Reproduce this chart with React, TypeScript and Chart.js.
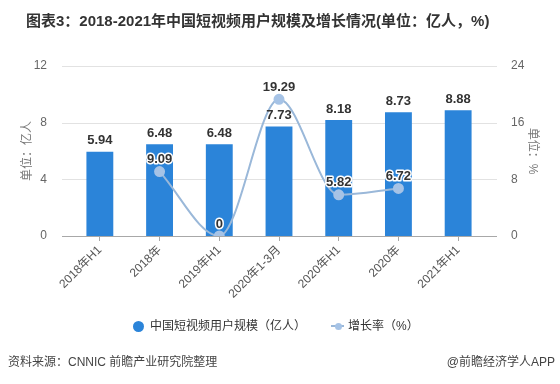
import React, { useEffect, useRef } from "react";
import { Chart, registerables } from "chart.js";

Chart.register(...registerables);

const categories = ["2018年H1", "2018年", "2019年H1", "2020年1-3月", "2020年H1", "2020年", "2021年H1"];
const userScale = [5.94, 6.48, 6.48, 7.73, 8.18, 8.73, 8.88];
const growthRate = [null, 9.09, 0, 19.29, 5.82, 6.72, null];
const leftTicks = [0, 4, 8, 12];
const rightTicks = [0, 8, 16, 24];

const TITLE = "图表3：2018-2021年中国短视频用户规模及增长情况(单位：亿人，%)";
const LEGEND_BAR = "中国短视频用户规模（亿人）";
const LEGEND_LINE = "增长率（%）";
const SOURCE = "资料来源：CNNIC 前瞻产业研究院整理";
const CREDIT = "@前瞻经济学人APP";

const BAR_COLOR = "#2b84d9";
const LINE_COLOR = "#9ab8d9";
const POINT_COLOR = "#a6c3e6";
const FONT = "'Liberation Sans', Arial, 'Noto Sans CJK SC', sans-serif";

const gridPlugin = {
  id: "customGrid",
  beforeDatasetsDraw(chart: any) {
    const { ctx, chartArea, scales } = chart;
    ctx.save();
    leftTicks.forEach((v) => {
      const y = Math.round(scales.y.getPixelForValue(v)) + 0.5;
      ctx.beginPath();
      ctx.strokeStyle = v === 0 ? "#a8a8a8" : "#e2e2e2";
      ctx.lineWidth = 1;
      ctx.moveTo(chartArea.left - 8, y);
      ctx.lineTo(chartArea.right + 9, y);
      ctx.stroke();
    });
    ctx.restore();
  },
};

const labelPlugin = {
  id: "valueLabels",
  afterDatasetsDraw(chart: any) {
    const { ctx } = chart;
    ctx.save();
    ctx.font = `bold 13px ${FONT}`;
    ctx.textAlign = "center";
    ctx.textBaseline = "middle";
    const barMeta = chart.getDatasetMeta(1);
    barMeta.data.forEach((el: any, i: number) => {
      ctx.fillStyle = "#333";
      ctx.fillText(userScale[i].toFixed(2), el.x, el.y - 11);
    });
    const lineMeta = chart.getDatasetMeta(0);
    lineMeta.data.forEach((el: any, i: number) => {
      const v = growthRate[i];
      if (v === null || v === undefined) return;
      const t = v === 0 ? "0" : v.toFixed(2);
      ctx.lineWidth = 3;
      ctx.strokeStyle = "#ffffff";
      ctx.lineJoin = "round";
      ctx.strokeText(t, el.x, el.y - 12);
      ctx.fillStyle = "#333";
      ctx.fillText(t, el.x, el.y - 12);
    });
    ctx.restore();
  },
};

export default function App() {
  const canvasRef = useRef<HTMLCanvasElement | null>(null);

  useEffect(() => {
    if (!canvasRef.current) return;
    const chart = new Chart(canvasRef.current, {
      type: "bar",
      data: {
        labels: categories,
        datasets: [
          {
            type: "line",
            label: LEGEND_LINE,
            data: growthRate,
            yAxisID: "y1",
            borderColor: LINE_COLOR,
            backgroundColor: POINT_COLOR,
            pointBackgroundColor: POINT_COLOR,
            pointBorderColor: POINT_COLOR,
            pointRadius: 4.5,
            borderWidth: 2,
            cubicInterpolationMode: "monotone",
            tension: 0.4,
            spanGaps: false,
            order: 0,
          } as any,
          {
            type: "bar",
            label: LEGEND_BAR,
            data: userScale,
            yAxisID: "y",
            backgroundColor: BAR_COLOR,
            barPercentage: 0.9,
            categoryPercentage: 0.5,
            order: 1,
          } as any,
        ],
      },
      options: {
        responsive: false,
        animation: false,
        layout: { padding: { top: 66, left: 0, right: 0, bottom: 0 } },
        plugins: {
          legend: { display: false },
          title: { display: false },
          tooltip: { enabled: false },
        },
        scales: {
          x: {
            type: "category",
            offset: true,
            grid: {
              display: true,
              drawOnChartArea: false,
              drawTicks: true,
              tickLength: 5,
              offset: false,
              color: "#a8a8a8",
            },
            border: { display: false },
            ticks: {
              maxRotation: 45,
              minRotation: 45,
              autoSkip: false,
              padding: 2,
              color: "#555",
              font: { size: 12, family: FONT },
            },
            afterFit: (scale: any) => {
              scale.height = 384 - 236;
            },
          },
          y: {
            position: "left",
            min: 0,
            max: 12,
            afterBuildTicks: (scale: any) => {
              scale.ticks = leftTicks.map((v) => ({ value: v }));
            },
            grid: { display: false },
            border: { display: false },
            ticks: { padding: 15, color: "#666", font: { size: 12, family: FONT } },
            title: {
              display: true,
              text: "单位：亿人",
              color: "#777",
              font: { size: 12, family: FONT },
              padding: { top: 20, bottom: 0 },
            },
            afterFit: (scale: any) => {
              scale.width = 70;
            },
          },
          y1: {
            position: "right",
            min: 0,
            max: 24,
            afterBuildTicks: (scale: any) => {
              scale.ticks = rightTicks.map((v) => ({ value: v }));
            },
            grid: { display: false },
            border: { display: false },
            ticks: { padding: 15, color: "#666", font: { size: 12, family: FONT } },
            title: {
              display: true,
              text: "单位：%",
              color: "#777",
              font: { size: 12, family: FONT },
              padding: { top: 20, bottom: 0 },
            },
            afterFit: (scale: any) => {
              scale.width = 72;
            },
          },
        },
      } as any,
      plugins: [gridPlugin, labelPlugin],
    });
    return () => chart.destroy();
  }, []);

  const cjk = "'Liberation Sans', Arial, 'Noto Sans CJK SC', sans-serif";

  return (
    <div
      style={{
        position: "absolute",
        left: 0,
        top: 0,
        width: 560,
        height: 384,
        background: "#fff",
        overflow: "hidden",
        fontFamily: cjk,
      }}
    >
      <canvas ref={canvasRef} width={560} height={384} style={{ display: "block", position: "absolute", left: 0, top: 0 }} />
      <div
        style={{
          position: "absolute",
          left: 26,
          top: 11,
          height: 20,
          lineHeight: "20px",
          fontSize: 15,
          fontWeight: "bold",
          color: "#333",
          whiteSpace: "nowrap",
        }}
      >
        {TITLE}
      </div>
      <div style={{ position: "absolute", left: 0, top: 316, height: 20, width: 560 }}>
        <div
          style={{
            position: "absolute",
            left: 132.5,
            top: 4.5,
            width: 11,
            height: 11,
            borderRadius: "50%",
            background: BAR_COLOR,
          }}
        />
        <div
          style={{
            position: "absolute",
            left: 150,
            top: 0,
            lineHeight: "20px",
            fontSize: 12,
            color: "#333",
            whiteSpace: "nowrap",
          }}
        >
          {LEGEND_BAR}
        </div>
        <div
          style={{ position: "absolute", left: 331, top: 9, width: 13, height: 2, background: LINE_COLOR }}
        />
        <div
          style={{
            position: "absolute",
            left: 334.5,
            top: 6.5,
            width: 7,
            height: 7,
            borderRadius: "50%",
            background: POINT_COLOR,
          }}
        />
        <div
          style={{
            position: "absolute",
            left: 348,
            top: 0,
            lineHeight: "20px",
            fontSize: 12,
            color: "#333",
            whiteSpace: "nowrap",
          }}
        >
          {LEGEND_LINE}
        </div>
      </div>
      <div
        style={{
          position: "absolute",
          left: 8,
          top: 352,
          lineHeight: "20px",
          fontSize: 12,
          color: "#444",
          whiteSpace: "nowrap",
        }}
      >
        {SOURCE}
      </div>
      <div
        style={{
          position: "absolute",
          right: 5,
          top: 352,
          lineHeight: "20px",
          fontSize: 12,
          color: "#444",
          whiteSpace: "nowrap",
        }}
      >
        {CREDIT}
      </div>
    </div>
  );
}
